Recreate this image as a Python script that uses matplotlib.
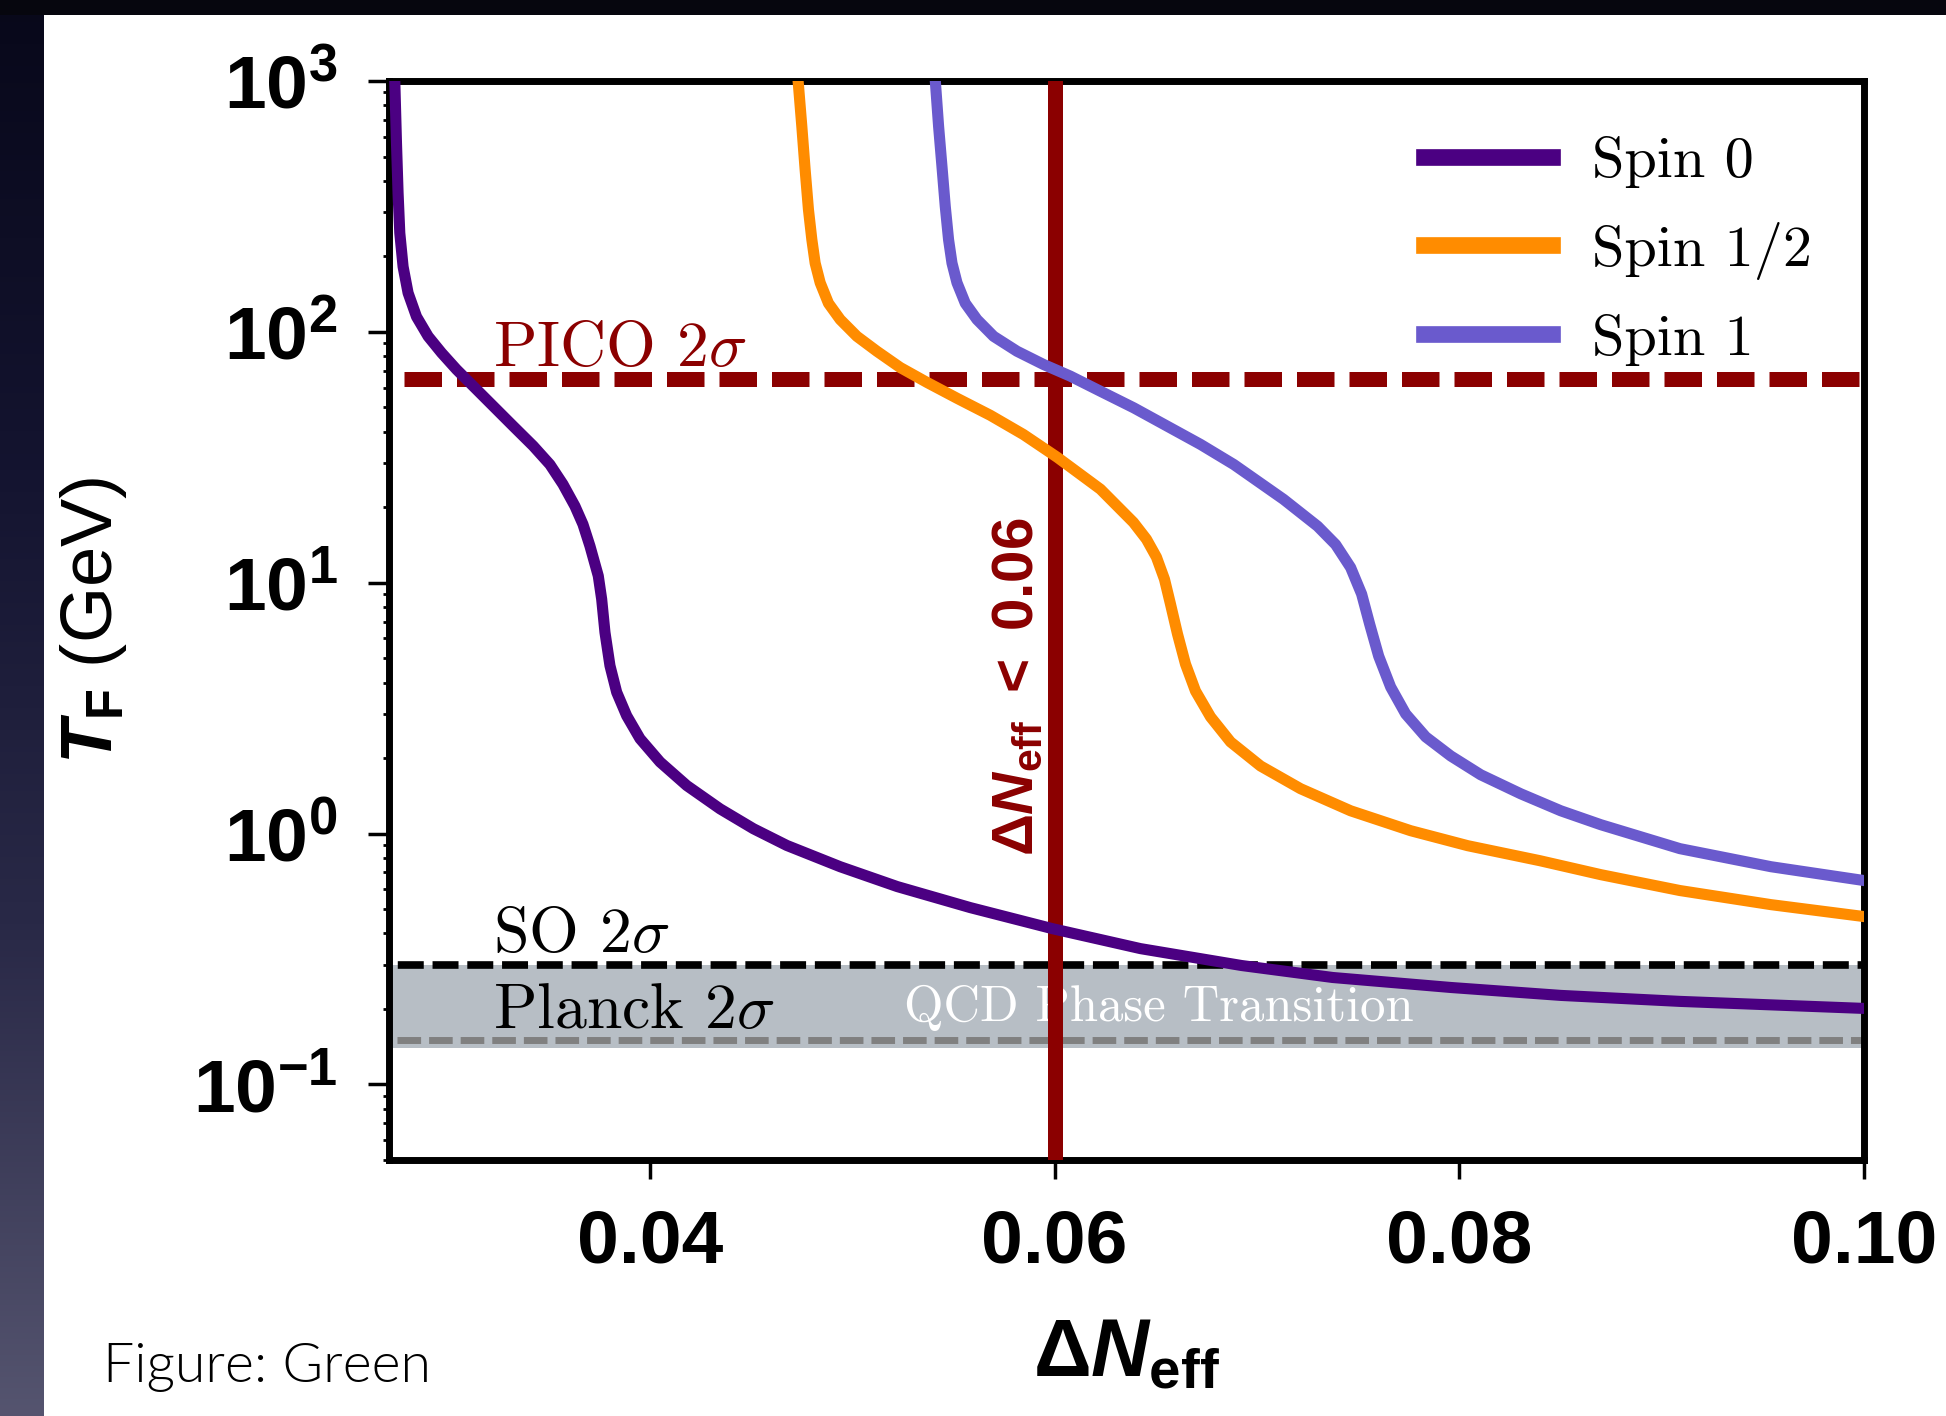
import numpy as np
import matplotlib
matplotlib.use('Agg')
import matplotlib.pyplot as plt
from matplotlib.colors import LinearSegmentedColormap
from matplotlib.patches import Rectangle

plt.rcParams['font.family'] = 'Liberation Sans'
plt.rcParams['font.weight'] = 'bold'
plt.rcParams['mathtext.fontset'] = 'custom'
plt.rcParams['mathtext.rm'] = 'Liberation Sans:bold'
plt.rcParams['mathtext.it'] = 'Liberation Sans:bold:italic'
plt.rcParams['mathtext.bf'] = 'Liberation Sans:bold'

# freeze-out temperature T_F [GeV] against Delta N_eff
dn_spin0 = [0.027386, 0.027470, 0.027549, 0.027633, 0.027796, 0.028043, 0.028459,
            0.029033, 0.029696, 0.030438, 0.031259, 0.032248, 0.033238, 0.034227,
            0.035053, 0.035696, 0.036290, 0.036686, 0.037032, 0.037443, 0.037611,
            0.037774, 0.038021, 0.038353, 0.038847, 0.039505, 0.040495, 0.041815,
            0.043463, 0.045110, 0.046762, 0.049399, 0.052219, 0.055830, 0.059886,
            0.064239, 0.069236, 0.073737, 0.079575, 0.085016, 0.090903, 0.10]
tf_spin0 = [1000, 565, 357, 248, 182, 143, 115,
            96.0, 82.5, 70.8, 60.8, 50.6, 42.1, 35.1,
            29.6, 24.7, 20.2, 17.1, 14.0, 10.65, 8.60,
            6.34, 4.67, 3.66, 2.95, 2.39, 1.93, 1.555,
            1.255, 1.046, 0.897, 0.738, 0.615, 0.507, 0.418,
            0.348, 0.298, 0.267, 0.2436, 0.2265, 0.2144, 0.201]

dn_spin12 = [0.04732, 0.047504, 0.047668, 0.047831, 0.047999, 0.048162, 0.048410,
             0.048820, 0.049399, 0.050225, 0.051214, 0.052367, 0.053703, 0.055187,
             0.056819, 0.058452, 0.060134, 0.062261, 0.063893, 0.064536, 0.065031,
             0.065427, 0.065724, 0.066070, 0.066466, 0.066961, 0.067702, 0.068692,
             0.070176, 0.072154, 0.074628, 0.077596, 0.080415, 0.083978, 0.086995,
             0.090903, 0.095404, 0.10]
tf_spin12 = [1000, 658, 442, 307, 233, 188, 157,
             130, 112, 96.0, 83.7, 72.1, 62.8, 54.3,
             46.5, 39.0, 31.6, 23.6, 17.4, 14.91, 12.64,
             10.33, 8.22, 6.25, 4.74, 3.70, 2.92, 2.32,
             1.86, 1.51, 1.233, 1.027, 0.895, 0.780, 0.686,
             0.593, 0.521, 0.467]

dn_spin1 = [0.054101, 0.054264, 0.054430, 0.054593, 0.054756, 0.054925, 0.055172,
            0.055583, 0.056161, 0.056982, 0.058140, 0.059455, 0.060777, 0.062261,
            0.063909, 0.065560, 0.067208, 0.068855, 0.071313, 0.072995, 0.073886,
            0.074627, 0.075172, 0.075568, 0.076013, 0.076606, 0.077348, 0.078338,
            0.079575, 0.081058, 0.083037, 0.085016, 0.086995, 0.090903, 0.095404, 0.10]
tf_spin1 = [1000, 658, 456, 316, 233, 188, 157,
            130, 112, 96.0, 83.7, 74.1, 66.6, 58.0,
            49.8, 42.1, 35.6, 29.6, 21.5, 16.8, 14.2,
            11.5, 9.01, 6.84, 5.10, 3.84, 3.00, 2.43,
            2.04, 1.716, 1.441, 1.233, 1.085, 0.871, 0.738, 0.650]

spin_labels = ['Spin 0', 'Spin 1/2', 'Spin 1']
spin_colors = ['#4b0082', '#ff8c00', '#6a5acd']

pico_tf = 65
so_tf = 0.3
planck_tf = 0.15
qcd_lo, qcd_hi = 0.14, 0.3
dneff_limit = 0.06

x_ticks = [0.04, 0.06, 0.08, 0.10]
x_ticklabels = ['0.04', '0.06', '0.08', '0.10']

darkred = '#8b0000'

fig = plt.figure(figsize=(19.46, 14.16), dpi=100)
fig.patch.set_facecolor('white')

# slide frame: dark strip on top, shaded strip down the left side
bg = fig.add_axes([0, 0, 44 / 1946, 1])
slide_cmap = LinearSegmentedColormap.from_list(
    'slide', ['#08081a', '#141430', '#2a2a48', '#55546f'])
bg.imshow(np.linspace(0, 1, 256).reshape(-1, 1), aspect='auto', cmap=slide_cmap,
          extent=[0, 1, 0, 1], origin='upper')
bg.axis('off')
fig.add_artist(Rectangle((0, 1 - 15 / 1416), 1, 15 / 1416, transform=fig.transFigure,
                         color='#06060e', lw=0))

ax = fig.add_axes([389 / 1946, 256 / 1416, 1475 / 1946, 1079 / 1416])

ax.axhspan(qcd_lo, qcd_hi, color='#b7bec5', lw=0, zorder=1)
ax.axhline(so_tf, color='black', lw=5.5, ls=(3.4, (3.4, 1.15)), zorder=2)
ax.axhline(planck_tf, color='#808080', lw=5, ls=(3.4, (3.4, 1.15)), zorder=2)
ax.axhline(pico_tf, color=darkred, lw=10.8, ls=(2.5, (2.5, 1.0)), zorder=2)
ax.axvline(dneff_limit, color=darkred, lw=10.8, zorder=3)

for xs, ys, lab, col in zip([dn_spin0, dn_spin12, dn_spin1],
                            [tf_spin0, tf_spin12, tf_spin1],
                            spin_labels, spin_colors):
    ax.plot(xs, ys, color=col, lw=8, label=lab, zorder=4, solid_joinstyle='round')

serif = dict(family='cmr10', math_fontfamily='cm', weight='normal', va='baseline')
ax.text(0.03223, 72.8, r'PICO 2$\sigma$', size=46, color=darkred, **serif)
ax.text(0.03223, 0.338, r'SO 2$\sigma$', size=46, color='black', **serif)
ax.text(0.03223, 0.1675, r'Planck 2$\sigma$', size=46, color='black', **serif)
ax.text(0.05256, 0.1786, 'QCD Phase Transition', size=36.5, color='white', zorder=1.5, **serif)
ax.text(0.05954, 3.84, r'$\Delta N_{\rm eff}\ <\ 0.06$', rotation=90, ha='right', va='center',
        size=42, color=darkred)

ax.set_yscale('log')
ax.set_xlim(0.0271, 0.10)
ax.set_ylim(0.05, 1000)
ax.set_xticks(x_ticks)
ax.set_xticklabels(x_ticklabels)

ax.tick_params(axis='both', which='major', direction='out', labelsize=54, width=2.5)
ax.tick_params(axis='y', which='major', length=15, pad=22)
ax.tick_params(axis='x', which='major', length=14, pad=21)
ax.tick_params(axis='y', which='minor', direction='out', length=4, width=2)
for s in ax.spines.values():
    s.set_linewidth(5)

ax.set_ylabel(r'$T_{\rm F}$ (GeV)', size=52)
ax.yaxis.set_label_coords(-0.176, 0.5)
ax.set_xlabel(r'$\Delta N_{\rm eff}$', size=58)
ax.xaxis.set_label_coords(0.5, -0.146)

leg = ax.legend(loc='upper left', bbox_to_anchor=(0.702, 0.949), frameon=False,
                prop={'family': 'cmr10', 'size': 42, 'weight': 'normal'},
                handlelength=2.19, handletextpad=0.68, labelspacing=0.58,
                borderpad=0, borderaxespad=0)
for line in leg.get_lines():
    line.set_linewidth(12)

fig.text(103 / 1946, 1 - 1382 / 1416, 'Figure: Green', family='Lato', weight=300,
         size=40, color='black', va='baseline')

fig.savefig('out.png', dpi=100, facecolor=fig.get_facecolor())
